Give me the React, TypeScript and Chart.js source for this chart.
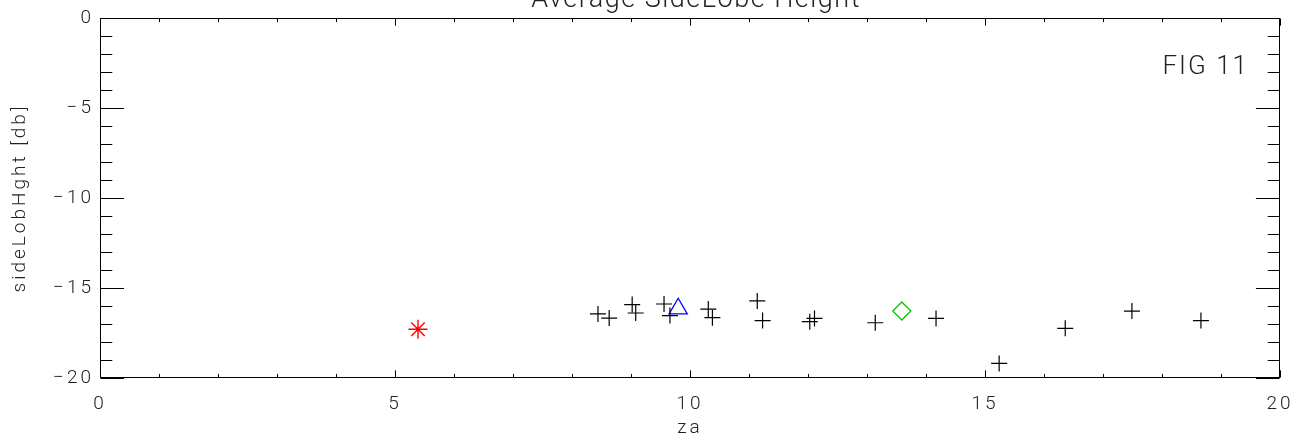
import { useEffect, useRef } from "react";
import { Chart, registerables } from "chart.js";

Chart.register(...registerables);

// ---- data ----
const crossZa = [8.44, 8.63, 9.02, 9.08, 9.56, 9.66, 10.31, 10.38, 11.14, 11.23, 12.03, 12.11, 13.14, 14.17, 15.24, 16.36, 17.49, 18.66];
const crossDb = [-16.44, -16.67, -15.92, -16.39, -15.89, -16.53, -16.17, -16.65, -15.72, -16.81, -16.87, -16.69, -16.93, -16.69, -19.19, -17.24, -16.28, -16.81];
const starZa = [5.39];
const starDb = [-17.29];
const triZa = [9.8];
const triDb = [-16.15];
const diaZa = [13.59];
const diaDb = [-16.28];

const xMin = 0;
const xMax = 20;
const xStep = 5;
const yMin = -20;
const yMax = 0;
const yStep = 5;
const minorStep = 1;

const titleText = "Average SideLobe Height";
const xTitle = "za";
const yTitle = "sideLobHght [db]";
const figText = "FIG 11";

const FAMILY = "Roboto, 'Liberation Sans', sans-serif";

const pts = (xs: number[], ys: number[]) => xs.map((v, i) => ({ x: v, y: ys[i] }));

const fmt = (v: number) => (v < 0 ? "\u2212" + Math.abs(v) : String(v));

const spacingPlugin = {
  id: "idlSpacing",
  beforeDraw(chart: any) {
    (chart.ctx as any).letterSpacing = "3px";
  },
};

const framePlugin = {
  id: "idlFrame",
  afterDraw(chart: any) {
    const { ctx, chartArea: a, scales } = chart;
    const xs = scales.x;
    const ys = scales.y;
    const L = Math.round(a.left) + 0.5;
    const R = Math.round(a.right) - 0.5;
    const T = Math.round(a.top) + 0.5;
    const B = Math.round(a.bottom) - 0.5;
    ctx.save();
    ctx.strokeStyle = "#000";
    ctx.lineWidth = 1;
    ctx.strokeRect(L, T, R - L, B - T);
    const w = a.right - a.left;
    const h = a.bottom - a.top;
    ctx.beginPath();
    for (let v = xMin; v <= xMax + 1e-9; v += minorStep) {
      const major = Math.abs(v / xStep - Math.round(v / xStep)) < 1e-6;
      const len = (major ? 0.02 : 0.01) * h;
      const px = Math.round(xs.getPixelForValue(v)) + 0.5;
      ctx.moveTo(px, B);
      ctx.lineTo(px, B - len);
      ctx.moveTo(px, T);
      ctx.lineTo(px, T + len);
    }
    for (let v = yMin; v <= yMax + 1e-9; v += minorStep) {
      const major = Math.abs(v / yStep - Math.round(v / yStep)) < 1e-6;
      const len = (major ? 0.02 : 0.01) * w;
      const py = Math.round(ys.getPixelForValue(v)) + 0.5;
      ctx.moveTo(L, py);
      ctx.lineTo(L + len, py);
      ctx.moveTo(R, py);
      ctx.lineTo(R - len, py);
    }
    ctx.stroke();

    ctx.fillStyle = "#222";
    ctx.font = `300 27px ${FAMILY}`;
    (ctx as any).letterSpacing = "1.5px";
    ctx.textAlign = "center";
    ctx.textBaseline = "alphabetic";
    ctx.fillText(titleText, (a.left + a.right) / 2 + 6, 7);

    ctx.font = `300 26px ${FAMILY}`;
    (ctx as any).letterSpacing = "2px";
    ctx.textAlign = "right";
    ctx.fillText(figText, a.right - 31, 74);
    ctx.restore();
    (ctx as any).letterSpacing = "0px";
  },
};

export default function App() {
  const ref = useRef<HTMLCanvasElement>(null);

  useEffect(() => {
    const canvas = ref.current;
    if (!canvas) return;
    const tickFont = { family: FAMILY, size: 19, weight: "300" as any };
    const chart = new Chart(canvas, {
      type: "scatter",
      data: {
        datasets: [
          {
            data: pts(crossZa, crossDb),
            pointStyle: "cross",
            pointRadius: 8,
            borderColor: "#000",
            backgroundColor: "rgba(0,0,0,0)",
            borderWidth: 1.2,
          },
          {
            data: pts(starZa, starDb),
            pointStyle: "star",
            pointRadius: 9.5,
            borderColor: "#ff0000",
            backgroundColor: "rgba(0,0,0,0)",
            borderWidth: 1.4,
          },
          {
            data: pts(triZa, triDb),
            pointStyle: "triangle",
            pointRadius: 10.5,
            borderColor: "#0000ff",
            backgroundColor: "rgba(0,0,0,0)",
            borderWidth: 1.3,
          },
          {
            data: pts(diaZa, diaDb),
            pointStyle: "rectRot",
            pointRadius: 9,
            borderColor: "#00c800",
            backgroundColor: "rgba(0,0,0,0)",
            borderWidth: 1.3,
          },
        ],
      },
      options: {
        responsive: false,
        animation: false,
        devicePixelRatio: 1,
        layout: { padding: { top: 18, right: 19, left: 0, bottom: 0 } },
        plugins: {
          legend: { display: false },
          tooltip: { enabled: false },
          title: { display: false },
        },
        scales: {
          x: {
            type: "linear",
            min: xMin,
            max: xMax,
            grid: { display: false, drawTicks: false, tickLength: 0 },
            border: { display: false },
            ticks: {
              stepSize: xStep,
              padding: 15,
              color: "#222",
              font: tickFont,
              maxRotation: 0,
              autoSkip: false,
              callback: (v: any) => fmt(Number(v)),
            },
            title: {
              display: true,
              text: xTitle,
              color: "#222",
              font: tickFont,
              padding: { top: 0, bottom: 5 },
            },
            afterFit: (s: any) => {
              s.height = 67;
              s.paddingLeft = 0;
              s.paddingRight = 0;
            },
          },
          y: {
            type: "linear",
            min: yMin,
            max: yMax,
            grid: { display: false, drawTicks: false, tickLength: 0 },
            border: { display: false },
            ticks: {
              stepSize: yStep,
              padding: 6,
              color: "#222",
              font: tickFont,
              autoSkip: false,
              callback: (v: any) => fmt(Number(v)),
            },
            title: {
              display: true,
              text: yTitle,
              color: "#222",
              font: tickFont,
              padding: { top: 9, bottom: 0 },
            },
            afterFit: (s: any) => {
              s.width = 100;
              s.paddingTop = 0;
              s.paddingBottom = 0;
            },
          },
        },
      },
      plugins: [spacingPlugin, framePlugin],
    });
    return () => chart.destroy();
  }, []);

  return (
    <div style={{ position: "absolute", left: 0, top: 0, width: 1299, height: 445, background: "#fff" }}>
      <canvas ref={ref} width={1299} height={445} style={{ display: "block", width: 1299, height: 445 }} />
    </div>
  );
}
